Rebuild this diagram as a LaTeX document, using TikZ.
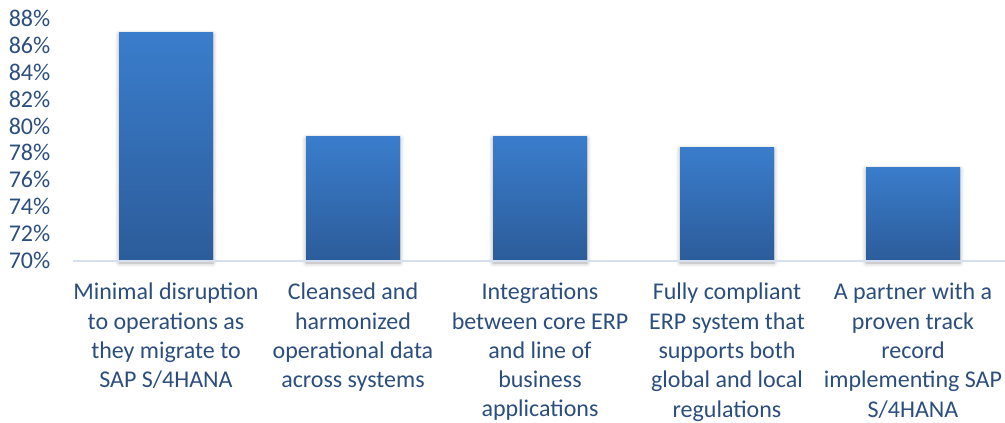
\documentclass[tikz,border=0pt]{standalone}
\usepackage{fontspec}
\setmainfont{Carlito}
\usetikzlibrary{shadows.blur}
\definecolor{txt}{HTML}{2C4E7E}
\definecolor{bartop}{HTML}{3A7DCC}
\definecolor{barbot}{HTML}{2C5C9A}
\definecolor{axisc}{HTML}{D5DFEF}
\tikzset{
  ylab/.style={anchor=east, inner sep=0pt, font=\fontsize{24}{29.3}\selectfont, text=txt},
  catlab/.style={anchor=north, inner sep=0pt, align=center, font=\fontsize{24}{29.3}\selectfont, text=txt},
  barfill/.style={top color=bartop, bottom color=barbot, draw=none,
    blur shadow={shadow xshift=0pt, shadow yshift=-2pt, shadow blur radius=4pt, shadow opacity=35}}
}
\begin{document}
\begin{tikzpicture}[x=1pt,y=-1pt]
\useasboundingbox (0,0) rectangle (1005,423);
% y-axis labels
\foreach \v [count=\i from 0] in {70,72,...,88}{
  \node[ylab] (y\v) at (50.5, 260 - \i*26.8) {\v\%};
}
% bars
\path[barfill] (119,32) rectangle (213,261);
\path[barfill] (306,136) rectangle (400,261);
\path[barfill] (493,136) rectangle (587,261);
\path[barfill] (680,147) rectangle (774,261);
\path[barfill] (866,167) rectangle (960,261);
% axis
\draw[axisc, line width=2pt] (73,261) -- (1005,261);
% category labels
\node[catlab] (c1) at (166,283) {Minimal disruption\\to operations as\\they migrate to\\SAP S/4HANA};
\node[catlab] (c2) at (353,283) {Cleansed and\\harmonized\\operational data\\across systems};
\node[catlab] (c3) at (540,283) {Integrations\\between core ERP\\and line of\\business\\applications};
\node[catlab] (c4) at (727,283) {Fully compliant\\ERP system that\\supports both\\global and local\\regulations};
\node[catlab] (c5) at (913,283) {A partner with a\\proven track\\record\\implementing SAP\\S/4HANA};
\end{tikzpicture}
\end{document}
